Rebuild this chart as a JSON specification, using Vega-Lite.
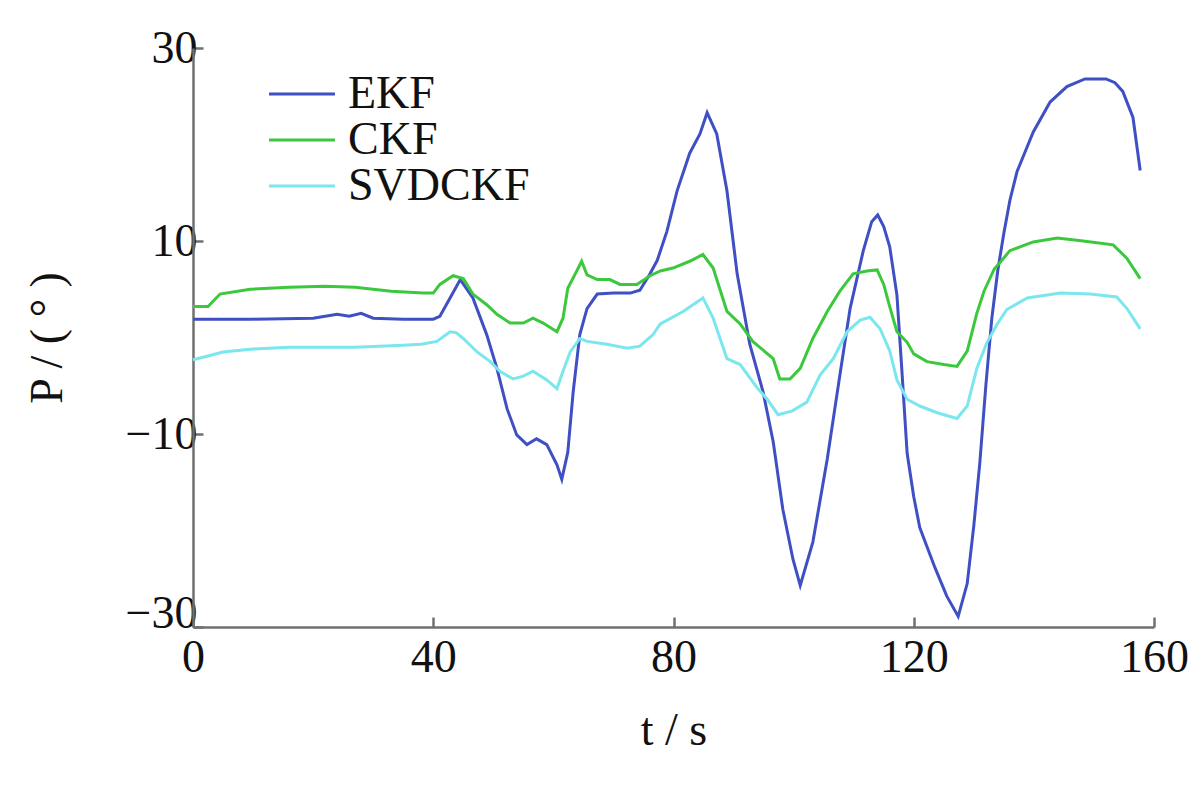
{
  "$schema": "https://vega.github.io/schema/vega-lite/v6.json",
  "width": 961,
  "height": 579,
  "autosize": "none",
  "padding": {"left": 193, "top": 48, "right": 46, "bottom": 159},
  "background": "white",
  "config": {"view": {"stroke": null}, "font": "Liberation Serif"},
  "datasets": {
    "raw": [
      {"s":"EKF","t":0,"v":1.9},{"s":"EKF","t":5,"v":1.9},{"s":"EKF","t":10,"v":1.9},{"s":"EKF","t":20,"v":2.0},{"s":"EKF","t":24,"v":2.4},{"s":"EKF","t":26,"v":2.2},{"s":"EKF","t":28,"v":2.5},{"s":"EKF","t":30,"v":2.0},{"s":"EKF","t":35,"v":1.9},{"s":"EKF","t":40,"v":1.9},{"s":"EKF","t":41.1,"v":2.2},{"s":"EKF","t":42.8,"v":4.1},{"s":"EKF","t":44.5,"v":6.0},{"s":"EKF","t":46.6,"v":4.1},{"s":"EKF","t":48.9,"v":0.3},{"s":"EKF","t":50.6,"v":-3.2},{"s":"EKF","t":52.3,"v":-7.4},{"s":"EKF","t":53.9,"v":-10.1},{"s":"EKF","t":55.6,"v":-11.1},{"s":"EKF","t":57.2,"v":-10.5},{"s":"EKF","t":58.9,"v":-11.1},{"s":"EKF","t":60.6,"v":-13.2},{"s":"EKF","t":61.4,"v":-14.7},{"s":"EKF","t":62.4,"v":-11.9},{"s":"EKF","t":63.3,"v":-5.6},{"s":"EKF","t":64.4,"v":0.3},{"s":"EKF","t":65.6,"v":3.0},{"s":"EKF","t":67.3,"v":4.5},{"s":"EKF","t":70,"v":4.6},{"s":"EKF","t":72.8,"v":4.6},{"s":"EKF","t":74.4,"v":4.9},{"s":"EKF","t":76,"v":6.5},{"s":"EKF","t":77.3,"v":8.0},{"s":"EKF","t":78.9,"v":11.0},{"s":"EKF","t":80.6,"v":15.2},{"s":"EKF","t":82.7,"v":19.1},{"s":"EKF","t":84.4,"v":21.1},{"s":"EKF","t":85.6,"v":23.3},{"s":"EKF","t":87.2,"v":21.1},{"s":"EKF","t":88.9,"v":15.2},{"s":"EKF","t":90.6,"v":6.6},{"s":"EKF","t":92.7,"v":-0.7},{"s":"EKF","t":94.9,"v":-5.6},{"s":"EKF","t":96.6,"v":-10.8},{"s":"EKF","t":98.2,"v":-17.8},{"s":"EKF","t":99.9,"v":-23.0},{"s":"EKF","t":101.1,"v":-25.7},{"s":"EKF","t":103.2,"v":-21.2},{"s":"EKF","t":105.6,"v":-12.6},{"s":"EKF","t":107.7,"v":-3.9},{"s":"EKF","t":109.4,"v":3.0},{"s":"EKF","t":111.6,"v":9.0},{"s":"EKF","t":113,"v":12.0},{"s":"EKF","t":114,"v":12.7},{"s":"EKF","t":115,"v":11.5},{"s":"EKF","t":116,"v":9.4},{"s":"EKF","t":117.2,"v":4.4},{"s":"EKF","t":118,"v":-3.2},{"s":"EKF","t":118.9,"v":-12.0},{"s":"EKF","t":120,"v":-16.5},{"s":"EKF","t":121,"v":-19.7},{"s":"EKF","t":123.5,"v":-23.8},{"s":"EKF","t":125.5,"v":-26.8},{"s":"EKF","t":127.4,"v":-28.9},{"s":"EKF","t":128.9,"v":-25.5},{"s":"EKF","t":130,"v":-19.5},{"s":"EKF","t":131,"v":-13},{"s":"EKF","t":132,"v":-5},{"s":"EKF","t":133,"v":2},{"s":"EKF","t":134,"v":7},{"s":"EKF","t":135,"v":10.8},{"s":"EKF","t":136,"v":14.2},{"s":"EKF","t":137.2,"v":17.2},{"s":"EKF","t":139.9,"v":21.3},{"s":"EKF","t":142.7,"v":24.4},{"s":"EKF","t":145.5,"v":26.0},{"s":"EKF","t":148.5,"v":26.8},{"s":"EKF","t":152,"v":26.8},{"s":"EKF","t":153.5,"v":26.4},{"s":"EKF","t":154.8,"v":25.5},{"s":"EKF","t":156.5,"v":22.8},{"s":"EKF","t":157.7,"v":17.3},
      {"s":"CKF","t":0,"v":3.2},{"s":"CKF","t":2.5,"v":3.2},{"s":"CKF","t":4.5,"v":4.5},{"s":"CKF","t":9.5,"v":5.0},{"s":"CKF","t":16,"v":5.2},{"s":"CKF","t":22,"v":5.3},{"s":"CKF","t":27,"v":5.2},{"s":"CKF","t":33,"v":4.8},{"s":"CKF","t":38.3,"v":4.6},{"s":"CKF","t":40,"v":4.6},{"s":"CKF","t":41.1,"v":5.5},{"s":"CKF","t":43.3,"v":6.4},{"s":"CKF","t":45,"v":6.1},{"s":"CKF","t":46.6,"v":4.5},{"s":"CKF","t":48.9,"v":3.4},{"s":"CKF","t":50.6,"v":2.4},{"s":"CKF","t":52.8,"v":1.5},{"s":"CKF","t":55,"v":1.5},{"s":"CKF","t":56.6,"v":2.0},{"s":"CKF","t":58.3,"v":1.5},{"s":"CKF","t":60.6,"v":0.6},{"s":"CKF","t":61.6,"v":2.0},{"s":"CKF","t":62.4,"v":5.1},{"s":"CKF","t":63.9,"v":6.9},{"s":"CKF","t":64.7,"v":7.9},{"s":"CKF","t":65.6,"v":6.5},{"s":"CKF","t":67.3,"v":6.0},{"s":"CKF","t":69.4,"v":6.0},{"s":"CKF","t":71.1,"v":5.5},{"s":"CKF","t":73.9,"v":5.5},{"s":"CKF","t":76.1,"v":6.4},{"s":"CKF","t":77.8,"v":6.9},{"s":"CKF","t":79.9,"v":7.2},{"s":"CKF","t":82.7,"v":7.9},{"s":"CKF","t":84.9,"v":8.6},{"s":"CKF","t":86.6,"v":7.2},{"s":"CKF","t":88.9,"v":2.7},{"s":"CKF","t":91.1,"v":1.4},{"s":"CKF","t":93.2,"v":-0.4},{"s":"CKF","t":96.6,"v":-2.2},{"s":"CKF","t":97.7,"v":-4.3},{"s":"CKF","t":99.4,"v":-4.3},{"s":"CKF","t":101.1,"v":-3.2},{"s":"CKF","t":103.2,"v":-0.1},{"s":"CKF","t":105.6,"v":2.7},{"s":"CKF","t":107.7,"v":4.8},{"s":"CKF","t":109.9,"v":6.6},{"s":"CKF","t":112.2,"v":6.9},{"s":"CKF","t":113.9,"v":7.0},{"s":"CKF","t":115,"v":5.5},{"s":"CKF","t":116,"v":3.2},{"s":"CKF","t":117.2,"v":0.6},{"s":"CKF","t":118.9,"v":-0.5},{"s":"CKF","t":120,"v":-1.7},{"s":"CKF","t":122.2,"v":-2.5},{"s":"CKF","t":125,"v":-2.8},{"s":"CKF","t":127.2,"v":-3.0},{"s":"CKF","t":128.9,"v":-1.4},{"s":"CKF","t":130.5,"v":2.5},{"s":"CKF","t":131.7,"v":4.8},{"s":"CKF","t":133.4,"v":7.1},{"s":"CKF","t":134.4,"v":7.8},{"s":"CKF","t":136,"v":9.0},{"s":"CKF","t":139.9,"v":9.9},{"s":"CKF","t":143.9,"v":10.3},{"s":"CKF","t":148.2,"v":10.0},{"s":"CKF","t":153.2,"v":9.6},{"s":"CKF","t":155.5,"v":8.2},{"s":"CKF","t":157.7,"v":6.1},
      {"s":"SVDCKF","t":0,"v":-2.3},{"s":"SVDCKF","t":2,"v":-2.0},{"s":"SVDCKF","t":5,"v":-1.5},{"s":"SVDCKF","t":10,"v":-1.2},{"s":"SVDCKF","t":16,"v":-1.0},{"s":"SVDCKF","t":27,"v":-1.0},{"s":"SVDCKF","t":35,"v":-0.8},{"s":"SVDCKF","t":38,"v":-0.7},{"s":"SVDCKF","t":40.6,"v":-0.4},{"s":"SVDCKF","t":42.8,"v":0.6},{"s":"SVDCKF","t":43.8,"v":0.5},{"s":"SVDCKF","t":45,"v":-0.1},{"s":"SVDCKF","t":47.3,"v":-1.5},{"s":"SVDCKF","t":49.5,"v":-2.5},{"s":"SVDCKF","t":51.1,"v":-3.5},{"s":"SVDCKF","t":53.3,"v":-4.3},{"s":"SVDCKF","t":55,"v":-4.0},{"s":"SVDCKF","t":56.6,"v":-3.5},{"s":"SVDCKF","t":58.9,"v":-4.4},{"s":"SVDCKF","t":60.6,"v":-5.3},{"s":"SVDCKF","t":61.6,"v":-3.5},{"s":"SVDCKF","t":62.8,"v":-1.5},{"s":"SVDCKF","t":64.4,"v":-0.1},{"s":"SVDCKF","t":65.6,"v":-0.4},{"s":"SVDCKF","t":68.9,"v":-0.7},{"s":"SVDCKF","t":72.3,"v":-1.1},{"s":"SVDCKF","t":74.4,"v":-0.9},{"s":"SVDCKF","t":76.6,"v":0.3},{"s":"SVDCKF","t":77.8,"v":1.4},{"s":"SVDCKF","t":81.6,"v":2.7},{"s":"SVDCKF","t":84.9,"v":4.1},{"s":"SVDCKF","t":86.6,"v":2.0},{"s":"SVDCKF","t":88.9,"v":-2.2},{"s":"SVDCKF","t":91.1,"v":-2.8},{"s":"SVDCKF","t":93.9,"v":-5.2},{"s":"SVDCKF","t":95.6,"v":-6.4},{"s":"SVDCKF","t":97.4,"v":-8.0},{"s":"SVDCKF","t":99.8,"v":-7.6},{"s":"SVDCKF","t":102.2,"v":-6.7},{"s":"SVDCKF","t":104.4,"v":-3.9},{"s":"SVDCKF","t":106.6,"v":-2.2},{"s":"SVDCKF","t":108.9,"v":0.6},{"s":"SVDCKF","t":111.1,"v":1.8},{"s":"SVDCKF","t":112.7,"v":2.1},{"s":"SVDCKF","t":114.4,"v":0.9},{"s":"SVDCKF","t":116,"v":-1.4},{"s":"SVDCKF","t":117.2,"v":-4.4},{"s":"SVDCKF","t":118.9,"v":-6.4},{"s":"SVDCKF","t":121,"v":-7.1},{"s":"SVDCKF","t":123.9,"v":-7.8},{"s":"SVDCKF","t":127.2,"v":-8.4},{"s":"SVDCKF","t":128.9,"v":-7.1},{"s":"SVDCKF","t":130.5,"v":-3.2},{"s":"SVDCKF","t":132.2,"v":-0.5},{"s":"SVDCKF","t":133.9,"v":1.4},{"s":"SVDCKF","t":135.5,"v":2.9},{"s":"SVDCKF","t":138.9,"v":4.1},{"s":"SVDCKF","t":144.4,"v":4.6},{"s":"SVDCKF","t":149.4,"v":4.5},{"s":"SVDCKF","t":153.8,"v":4.2},{"s":"SVDCKF","t":155.5,"v":3.0},{"s":"SVDCKF","t":157.7,"v":0.9}
    ]
  },
  "data": {"name": "raw"},
  "mark": {"type": "line", "strokeWidth": 3},
  "encoding": {
    "x": {
      "field": "t", "type": "quantitative",
      "scale": {"domain": [0, 160], "nice": false, "zero": false},
      "axis": {
        "values": [0, 40, 80, 120, 160], "title": "t / s", "grid": false, "labelFlush": false,
        "domainColor": "#707070", "domainWidth": 2.5, "tickColor": "#707070", "tickWidth": 2.5, "tickSize": -10,
        "labelFontSize": 46, "labelColor": "#111111", "labelPadding": 18, "labelFont": "Liberation Serif",
        "titleFontSize": 46, "titleFontWeight": "normal", "titleColor": "#111111", "titlePadding": 28, "titleFont": "Liberation Serif"
      }
    },
    "y": {
      "field": "v", "type": "quantitative",
      "scale": {"domain": [-30, 30], "nice": false},
      "axis": {
        "values": [-30, -10, 10, 30], "title": "P / ( ° )", "grid": false, "labelFlush": false,
        "labelBaseline": {"condition": {"test": "datum.value < -20", "value": "alphabetic"}, "value": "middle"},
        "domainColor": "#707070", "domainWidth": 2.5, "tickColor": "#707070", "tickWidth": 2.5, "tickSize": -10,
        "labelFontSize": 46, "labelColor": "#111111", "labelPadding": 6, "labelFont": "Liberation Serif",
        "titleFontSize": 46, "titleFontWeight": "normal", "titleColor": "#111111", "titlePadding": 54, "titleFont": "Liberation Serif"
      }
    },
    "color": {
      "field": "s", "type": "nominal",
      "scale": {"domain": ["EKF", "CKF", "SVDCKF"], "range": ["#3f4fc4", "#3cc83c", "#7ae6ee"]},
      "legend": {
        "title": null, "orient": "none", "legendX": 86, "legendY": 23, "padding": 0,
        "symbolType": "M-2.95,0H2.95", "symbolSize": 500, "symbolStrokeWidth": 3,
        "labelFontSize": 46, "labelFont": "Liberation Serif", "labelColor": "#111111", "labelOffset": 23,
        "rowPadding": -24, "labelLimit": 400
      }
    }
  }
}
